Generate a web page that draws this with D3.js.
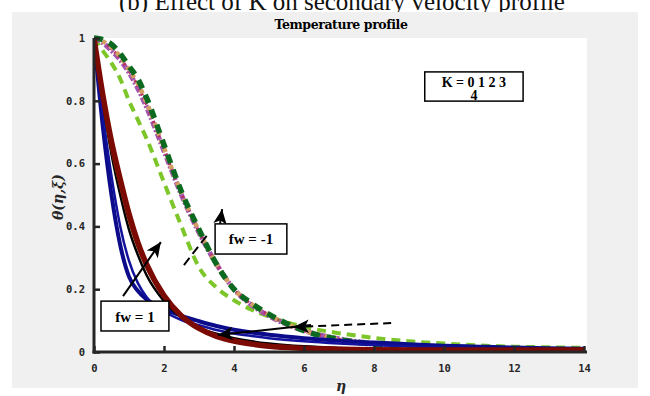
<!DOCTYPE html>
<html>
<head>
<meta charset="utf-8">
<script src="https://cdn.jsdelivr.net/npm/d3@7"></script>
<style>
  body { margin: 0; background: #ffffff; }
  svg { display: block; }
</style>
</head>
<body>
<script>
// chart data
let eta = [0, 0.25, 0.5, 0.75, 1, 1.25, 1.5, 2, 2.5, 3, 3.5, 4, 4.5, 5, 6, 7, 8, 9, 10, 11, 12, 13, 14];

// fw = 1, K = 0..4 (solid lines)
let fw1K0 = [1, 0.72, 0.50, 0.34, 0.24, 0.195, 0.168, 0.137, 0.115, 0.098, 0.083, 0.071, 0.062, 0.055, 0.044, 0.036, 0.030, 0.025, 0.020, 0.017, 0.014, 0.012, 0.010];
let fw1K1 = [1, 0.76, 0.56, 0.40, 0.29, 0.22, 0.175, 0.13, 0.102, 0.085, 0.070, 0.059, 0.051, 0.044, 0.034, 0.027, 0.022, 0.018, 0.014, 0.011, 0.009, 0.008, 0.007];
let fw1K2 = [1, 0.80, 0.63, 0.50, 0.39, 0.31, 0.245, 0.162, 0.11, 0.078, 0.058, 0.044, 0.034, 0.027, 0.018, 0.013, 0.010, 0.008, 0.007, 0.006, 0.006, 0.005, 0.005];
let fw1K3 = [1, 0.81, 0.65, 0.53, 0.42, 0.335, 0.27, 0.175, 0.115, 0.077, 0.053, 0.038, 0.028, 0.021, 0.013, 0.009, 0.007, 0.006, 0.006, 0.005, 0.005, 0.005, 0.005];
let fw1K4 = [1, 0.82, 0.67, 0.55, 0.44, 0.35, 0.28, 0.18, 0.115, 0.075, 0.050, 0.035, 0.025, 0.018, 0.012, 0.009, 0.007, 0.006, 0.006, 0.006, 0.006, 0.006, 0.006];

// fw = -1, K = 0..4 (dashed / dotted lines)
let fwm1K0 = [1, 0.96, 0.92, 0.87, 0.80, 0.74, 0.68, 0.54, 0.40, 0.27, 0.205, 0.165, 0.135, 0.113, 0.080, 0.060, 0.045, 0.034, 0.027, 0.021, 0.017, 0.015, 0.013];
let fwm1K1 = [1, 0.985, 0.96, 0.93, 0.89, 0.84, 0.78, 0.64, 0.50, 0.38, 0.28, 0.20, 0.15, 0.115, 0.068, 0.042, 0.027, 0.018, 0.013, 0.010, 0.007, 0.005, 0.004];
let fwm1K2 = [1, 0.988, 0.965, 0.935, 0.895, 0.848, 0.788, 0.645, 0.503, 0.383, 0.28, 0.20, 0.152, 0.117, 0.068, 0.041, 0.026, 0.018, 0.013, 0.009, 0.007, 0.005, 0.004];
let fwm1K3 = [1, 0.99, 0.97, 0.94, 0.90, 0.855, 0.795, 0.65, 0.505, 0.385, 0.28, 0.20, 0.153, 0.118, 0.068, 0.040, 0.025, 0.017, 0.012, 0.009, 0.006, 0.004, 0.003];
let fwm1K4 = [1, 0.995, 0.98, 0.95, 0.91, 0.87, 0.81, 0.66, 0.51, 0.39, 0.28, 0.20, 0.155, 0.12, 0.068, 0.040, 0.025, 0.017, 0.012, 0.009, 0.006, 0.004, 0.003];

let xTicks = [0, 2, 4, 6, 8, 10, 12, 14];
let yTicks = [0, 0.2, 0.4, 0.6, 0.8, 1];

// figure size and plot box
let svgWidth = 650;
let svgHeight = 396;
let plot = { left: 94, right: 587, top: 38, bottom: 352 };

let svg = d3.select('body')
  .append('svg')
  .attr('width', svgWidth)
  .attr('height', svgHeight);

// cut-off caption above the figure
svg.append('text')
  .attr('x', 342).attr('y', 10)
  .attr('text-anchor', 'middle')
  .style('font', '25px "Liberation Serif", serif')
  .attr('fill', '#111')
  .text('(b) Effect of K on secondary velocity profile');

// grey figure background
svg.append('rect')
  .attr('x', 12).attr('y', 12)
  .attr('width', 626).attr('height', 376)
  .attr('fill', '#f0f0f0');

svg.append('rect')
  .attr('x', plot.left).attr('y', plot.top)
  .attr('width', plot.right - plot.left).attr('height', plot.bottom - plot.top)
  .attr('fill', '#ffffff');

let xScale = d3.scaleLinear().domain([0, 14]).range([plot.left, plot.right - 3]);
let yScale = d3.scaleLinear().domain([0, 1]).range([plot.bottom, plot.top]);

svg.append('clipPath').attr('id', 'clip')
  .append('rect')
  .attr('x', plot.left).attr('y', plot.top - 4)
  .attr('width', plot.right - plot.left).attr('height', plot.bottom - plot.top + 4);

let createLine = d3.line()
  .x(d => xScale(d[0]))
  .y(d => yScale(d[1]))
  .curve(d3.curveMonotoneX);

let curves = [
  { ys: fwm1K0, color: '#7cc62a', width: 4, dash: '9,6' },
  { ys: fwm1K1, color: '#a455b0', width: 5, dash: '7,2,2,2' },
  { ys: fwm1K2, color: '#b83060', width: 3, dash: '2,3' },
  { ys: fwm1K3, color: '#d2a062', width: 4.5, dash: '4,5' },
  { ys: fwm1K4, color: '#0b6a20', width: 5.5, dash: '9,7' },
  { ys: fw1K0, color: '#0c0c8a', width: 4, dash: null },
  { ys: fw1K1, color: '#12129c', width: 2.5, dash: null },
  { ys: fw1K2, color: '#000000', width: 2.5, dash: null },
  { ys: fw1K3, color: '#7a3c12', width: 3, dash: null },
  { ys: fw1K4, color: '#7a0a02', width: 5.5, dash: null }
];

let curveGroup = svg.append('g').attr('clip-path', 'url(#clip)');
curves.forEach(c => {
  curveGroup.append('path')
    .attr('d', createLine(eta.map((e, i) => [e, c.ys[i]])))
    .attr('fill', 'none')
    .attr('stroke', c.color)
    .attr('stroke-width', c.width)
    .attr('stroke-dasharray', c.dash);
});

// axes, ticks pointing inward
let xAxis = d3.axisBottom(xScale).tickValues(xTicks).tickSizeInner(-6).tickSizeOuter(0).tickPadding(13);
let yAxis = d3.axisLeft(yScale).tickValues(yTicks).tickSizeInner(-6).tickSizeOuter(0).tickPadding(9)
  .tickFormat(d => d === 0 || d === 1 ? d : d3.format('.1f')(d));

let gx = svg.append('g')
  .attr('transform', `translate(0, ${plot.bottom})`)
  .call(xAxis);
let gy = svg.append('g')
  .attr('transform', `translate(${plot.left}, 0)`)
  .call(yAxis);

[gx, gy].forEach(g => {
  g.select('.domain').remove();
  g.selectAll('line').attr('stroke', '#262626').attr('stroke-width', 2.5);
  g.selectAll('text')
    .style('font', 'bold 10.5px "DejaVu Sans Mono", monospace')
    .attr('fill', '#262626');
});

svg.append('line')
  .attr('x1', plot.left).attr('x2', plot.left)
  .attr('y1', plot.top).attr('y2', plot.bottom + 1.5)
  .attr('stroke', '#262626').attr('stroke-width', 3);
svg.append('line')
  .attr('x1', plot.left - 1.5).attr('x2', plot.right)
  .attr('y1', plot.bottom).attr('y2', plot.bottom)
  .attr('stroke', '#262626').attr('stroke-width', 3);

// title and axis labels
svg.append('text')
  .attr('x', 341).attr('y', 29)
  .attr('text-anchor', 'middle')
  .style('font', 'bold 12.5px "DejaVu Serif", serif')
  .attr('letter-spacing', '-0.4')
  .text('Temperature profile');

svg.append('text')
  .attr('x', 341).attr('y', 391)
  .attr('text-anchor', 'middle')
  .style('font', 'italic bold 14px "DejaVu Serif", serif')
  .attr('fill', '#262626')
  .text('η');

svg.append('text')
  .attr('transform', 'translate(63, 197) rotate(-90)')
  .attr('text-anchor', 'middle')
  .style('font', 'italic bold 14px "DejaVu Serif", serif')
  .attr('fill', '#262626')
  .text('θ(η,ξ)');

// annotations (in data units)
svg.append('defs').append('marker')
  .attr('id', 'head')
  .attr('viewBox', '0 0 10 10')
  .attr('refX', 10).attr('refY', 5)
  .attr('markerWidth', 15).attr('markerHeight', 15)
  .attr('markerUnits', 'userSpaceOnUse')
  .attr('orient', 'auto')
  .append('path')
  .attr('d', 'M0,0.5 L10,5 L0,9.5 L2.5,5 Z')
  .attr('fill', '#000');

let arrows = [
  { from: [0.83, 0.178], to: [1.91, 0.35], dash: null },
  { from: [3.49, 0.318], to: [3.66, 0.455], dash: null },
  { from: [6.2, 0.086], to: [3.54, 0.054], dash: null },
  { from: [8.49, 0.092], to: [5.71, 0.08], dash: '8,5' }
];
arrows.forEach(a => {
  svg.append('line')
    .attr('x1', xScale(a.from[0])).attr('y1', yScale(a.from[1]))
    .attr('x2', xScale(a.to[0])).attr('y2', yScale(a.to[1]))
    .attr('stroke', '#000').attr('stroke-width', 2)
    .attr('stroke-dasharray', a.dash)
    .attr('marker-end', 'url(#head)');
});

svg.append('line')
  .attr('x1', xScale(2.57)).attr('y1', yScale(0.277))
  .attr('x2', xScale(3.26)).attr('y2', yScale(0.376))
  .attr('stroke', '#000').attr('stroke-width', 2)
  .attr('stroke-dasharray', '9,5');

let boxes = [
  { x0: 0.2, x1: 2.14, y0: 0.162, y1: 0.067, lines: ['fw = 1'] },
  { x0: 3.46, x1: 5.51, y0: 0.408, y1: 0.312, lines: ['fw = -1'] },
  { x0: 9.45, x1: 12.26, y0: 0.892, y1: 0.799, lines: ['K = 0 1 2 3', '4'] }
];
boxes.forEach(b => {
  let bx = xScale(b.x0), by = yScale(b.y0);
  let bw = xScale(b.x1) - bx, bh = yScale(b.y1) - by;
  svg.append('rect')
    .attr('x', bx).attr('y', by)
    .attr('width', bw).attr('height', bh)
    .attr('fill', '#fff').attr('stroke', '#000').attr('stroke-width', 1.5);
  b.lines.forEach((t, i) => {
    svg.append('text')
      .attr('x', bx + bw / 2)
      .attr('y', b.lines.length === 1 ? by + bh / 2 + 5.5 : by + 15 + i * 13)
      .attr('text-anchor', 'middle')
      .style('font', `bold ${b.lines.length === 1 ? 15 : 14}px "Liberation Serif", serif`)
      .text(t);
  });
});
</script>
</body>
</html>
